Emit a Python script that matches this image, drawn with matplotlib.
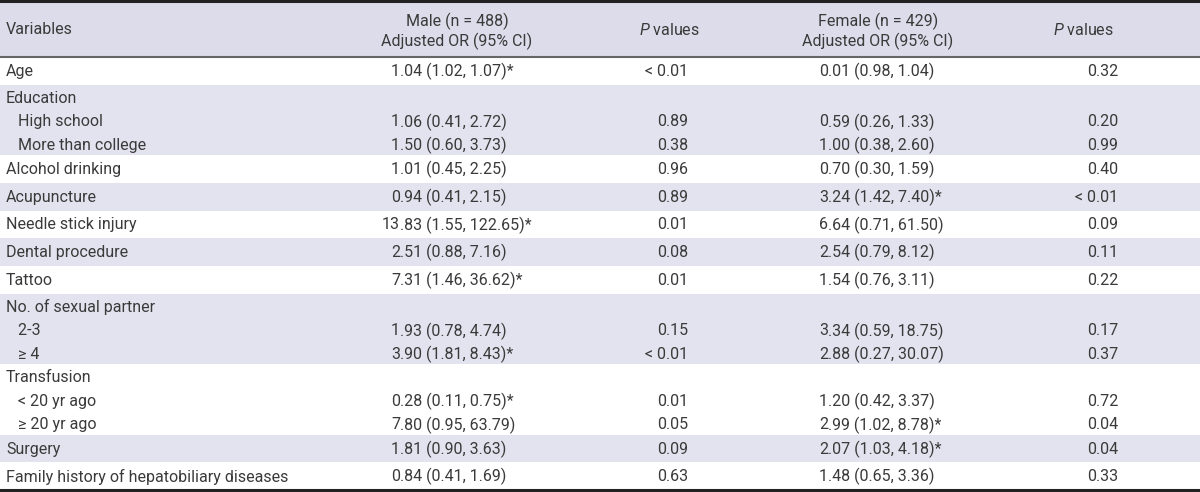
import matplotlib
matplotlib.use("Agg")
from matplotlib import pyplot as plt
from matplotlib.patches import Rectangle

plt.rcParams["mathtext.fontset"] = "custom"
plt.rcParams["mathtext.rm"] = "Roboto"
plt.rcParams["mathtext.it"] = "Roboto:italic"

# table content
HEADERS = ["Variables", "Male (n = 488)\nAdjusted OR (95% CI)", "$P$ values",
           "Female (n = 429)\nAdjusted OR (95% CI)", "$P$ values"]

# each block: list of (label, male OR, male p, female OR, female p)
BLOCKS = [
    [("Age", "1.04 (1.02, 1.07)*", "< 0.01", "0.01 (0.98, 1.04)", "0.32")],
    [("Education", "", "", "", ""),
     ("   High school", "1.06 (0.41, 2.72)", "0.89", "0.59 (0.26, 1.33)", "0.20"),
     ("   More than college", "1.50 (0.60, 3.73)", "0.38", "1.00 (0.38, 2.60)", "0.99")],
    [("Alcohol drinking", "1.01 (0.45, 2.25)", "0.96", "0.70 (0.30, 1.59)", "0.40")],
    [("Acupuncture", "0.94 (0.41, 2.15)", "0.89", "3.24 (1.42, 7.40)*", "< 0.01")],
    [("Needle stick injury", "13.83 (1.55, 122.65)*", "0.01", "6.64 (0.71, 61.50)", "0.09")],
    [("Dental procedure", "2.51 (0.88, 7.16)", "0.08", "2.54 (0.79, 8.12)", "0.11")],
    [("Tattoo", "7.31 (1.46, 36.62)*", "0.01", "1.54 (0.76, 3.11)", "0.22")],
    [("No. of sexual partner", "", "", "", ""),
     ("   2-3", "1.93 (0.78, 4.74)", "0.15", "3.34 (0.59, 18.75)", "0.17"),
     ("   \u2265 4", "3.90 (1.81, 8.43)*", "< 0.01", "2.88 (0.27, 30.07)", "0.37")],
    [("Transfusion", "", "", "", ""),
     ("   < 20 yr ago", "0.28 (0.11, 0.75)*", "0.01", "1.20 (0.42, 3.37)", "0.72"),
     ("   \u2265 20 yr ago", "7.80 (0.95, 63.79)", "0.05", "2.99 (1.02, 8.78)*", "0.04")],
    [("Surgery", "1.81 (0.90, 3.63)", "0.09", "2.07 (1.03, 4.18)*", "0.04")],
    [("Family history of hepatobiliary diseases", "0.84 (0.41, 1.69)", "0.63", "1.48 (0.65, 3.36)", "0.33")],
]
SHADED = [False, True, False, True, False, True, False, True, False, True, False]

FONT = ["Roboto", "DejaVu Sans"]
TXT = "#3a3a3a"
BAND = "#e3e3ef"
FS = 11.5

fig = plt.figure(figsize=(12, 4.92), dpi=100)
ax = fig.add_axes([0, 0, 1, 1])
ax.set_xlim(0, 1200)
ax.set_ylim(492, 0)
ax.axis("off")
kw = dict(va="center", fontsize=FS, family=FONT, color=TXT)

# header
ax.add_patch(Rectangle((0, 1), 1200, 56, color="#dcdcea", lw=0))
ax.text(6, 29, HEADERS[0], ha="left", **kw)
ax.text(457, 31, HEADERS[1], ha="center", linespacing=1.2, **kw)
ax.text(669, 30, HEADERS[2], ha="center", **kw)
ax.text(878, 31, HEADERS[3], ha="center", linespacing=1.2, **kw)
ax.text(1083, 30, HEADERS[4], ha="center", **kw)

LINE = 23.5
SINGLE = 27.7


def dec_text(x, y, s):
    # align on first decimal point
    i = s.index(".")
    ax.text(x, y, s[:i], ha="right", **kw)
    ax.text(x, y, s[i:], ha="left", **kw)


y0 = 57
for block, shade in zip(BLOCKS, SHADED):
    n = len(block)
    h = SINGLE if n == 1 else LINE * n
    if shade:
        ax.add_patch(Rectangle((0, y0), 1200, h, color=BAND, lw=0))
    mid = y0 + h / 2 + (0.5 if n == 1 else 2.0)
    for k, (lab, mor, mp, f_or, fp) in enumerate(block):
        y = mid + (k - (n - 1) / 2) * LINE
        ax.text(6, y, lab, ha="left", **kw)
        if mor:
            dec_text(400, y, mor)
            ax.text(688, y, mp, ha="right", **kw)
        if f_or:
            dec_text(828, y, f_or)
            ax.text(1118, y, fp, ha="right", **kw)
    y0 += h

# rules
ax.plot([0, 1200], [1, 1], color="#222222", lw=2.2)
ax.plot([0, 1200], [57, 57], color="#666666", lw=1.5)
ax.plot([0, 1200], [y0, y0], color="#222222", lw=2.2)

fig.savefig("out.png", dpi=100)
